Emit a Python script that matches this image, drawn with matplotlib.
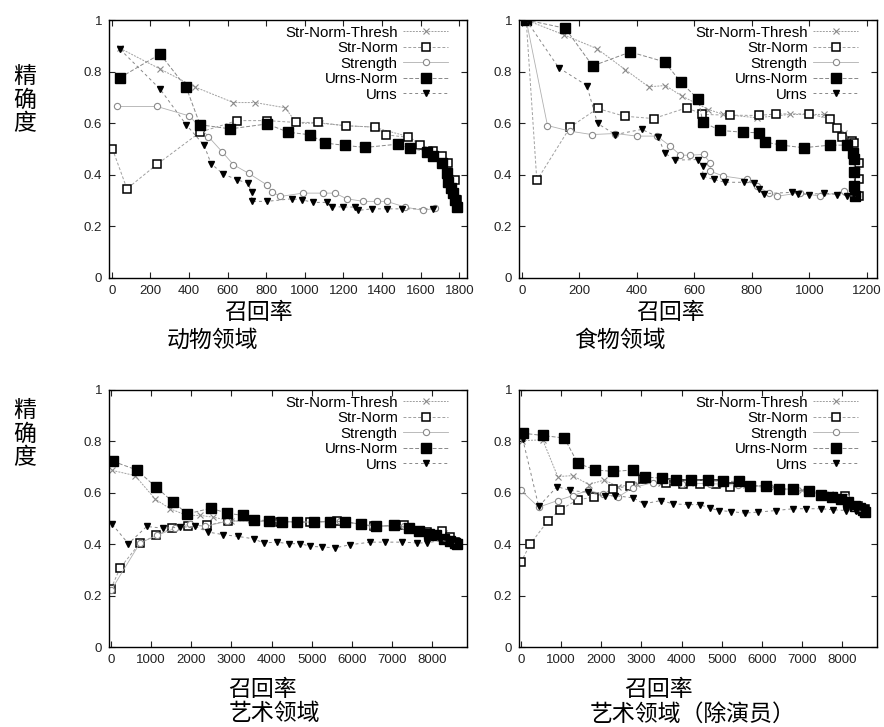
import matplotlib
matplotlib.use("Agg")
import matplotlib.pyplot as plt

plt.rcParams['font.family'] = ['Liberation Sans', 'Noto Sans CJK SC', 'DejaVu Sans']

# series names (legend order)
series_names = ["Str-Norm-Thresh", "Str-Norm", "Strength", "Urns-Norm", "Urns"]

# ---- panel 1: animal domain ----
animal_thresh_x = [43, 250, 431, 630, 742, 897, 958, 1079, 1217, 1355, 1536, 1640, 1717, 1778, 1790]
animal_thresh_y = [0.89, 0.81, 0.74, 0.68, 0.68, 0.66, 0.60, 0.60, 0.59, 0.585, 0.548, 0.50, 0.45, 0.38, 0.29]
animal_strnorm_x = [3, 78, 233, 457, 647, 803, 954, 1067, 1212, 1363, 1420, 1536, 1597, 1666, 1709, 1743, 1778, 1786, 1795]
animal_strnorm_y = [0.50, 0.346, 0.44, 0.565, 0.61, 0.61, 0.603, 0.603, 0.59, 0.585, 0.555, 0.545, 0.514, 0.493, 0.471, 0.445, 0.381, 0.303, 0.271]
animal_strength_x = [26, 233, 402, 500, 570, 630, 708, 803, 829, 872, 989, 1096, 1156, 1217, 1303, 1372, 1424, 1519, 1614, 1674]
animal_strength_y = [0.665, 0.665, 0.628, 0.548, 0.49, 0.439, 0.406, 0.361, 0.335, 0.316, 0.329, 0.329, 0.329, 0.307, 0.297, 0.297, 0.297, 0.275, 0.262, 0.271]
animal_urnsnorm_x = [43, 250, 385, 457, 613, 803, 915, 1027, 1105, 1208, 1312, 1484, 1545, 1631, 1666, 1709, 1735, 1743, 1755, 1769, 1778, 1786]
animal_urnsnorm_y = [0.777, 0.868, 0.739, 0.594, 0.578, 0.597, 0.565, 0.555, 0.523, 0.514, 0.506, 0.519, 0.503, 0.49, 0.471, 0.445, 0.406, 0.374, 0.35, 0.329, 0.303, 0.277]
animal_urns_x = [43, 250, 385, 478, 514, 575, 647, 704, 725, 725, 803, 932, 984, 1044, 1113, 1139, 1200, 1260, 1277, 1346, 1424, 1502, 1666]
animal_urns_y = [0.886, 0.732, 0.594, 0.514, 0.443, 0.404, 0.381, 0.368, 0.332, 0.297, 0.297, 0.307, 0.303, 0.293, 0.293, 0.277, 0.275, 0.275, 0.262, 0.268, 0.268, 0.268, 0.268]

# ---- panel 2: food domain ----
food_thresh_x = [15, 147, 261, 359, 441, 499, 557, 649, 701, 817, 933, 1049, 1119, 1165, 1171]
food_thresh_y = [1.0, 0.942, 0.889, 0.808, 0.741, 0.746, 0.705, 0.653, 0.634, 0.621, 0.634, 0.634, 0.563, 0.433, 0.317]
food_strnorm_x = [15, 52, 168, 263, 357, 458, 574, 628, 725, 823, 885, 997, 1072, 1096, 1115, 1148, 1154, 1171, 1171, 1171]
food_strnorm_y = [1.0, 0.378, 0.585, 0.657, 0.627, 0.618, 0.66, 0.634, 0.631, 0.63, 0.636, 0.636, 0.618, 0.582, 0.546, 0.53, 0.524, 0.446, 0.382, 0.317]
food_strength_x = [15, 89, 168, 243, 325, 400, 470, 516, 551, 586, 632, 655, 655, 701, 783, 817, 858, 887, 968, 1037, 1119, 1165]
food_strength_y = [1.0, 0.591, 0.569, 0.556, 0.56, 0.55, 0.55, 0.511, 0.476, 0.476, 0.479, 0.446, 0.414, 0.395, 0.382, 0.356, 0.33, 0.317, 0.33, 0.317, 0.336, 0.317]
food_urnsnorm_x = [15, 151, 246, 377, 496, 553, 614, 629, 690, 769, 823, 846, 902, 980, 1072, 1130, 1151, 1156, 1156, 1156, 1159]
food_urnsnorm_y = [1.0, 0.968, 0.822, 0.876, 0.838, 0.759, 0.692, 0.604, 0.572, 0.565, 0.563, 0.527, 0.515, 0.505, 0.515, 0.515, 0.485, 0.46, 0.41, 0.356, 0.317]
food_urns_x = [15, 128, 226, 263, 325, 417, 475, 496, 533, 611, 629, 629, 667, 707, 771, 806, 823, 843, 939, 962, 1000, 1049, 1096, 1130, 1165]
food_urns_y = [1.0, 0.815, 0.746, 0.599, 0.556, 0.576, 0.546, 0.485, 0.457, 0.459, 0.433, 0.395, 0.382, 0.371, 0.371, 0.369, 0.345, 0.327, 0.332, 0.327, 0.323, 0.33, 0.323, 0.319, 0.317]

# ---- panel 3: art domain ----
art_thresh_x = [33, 599, 1098, 1472, 1888, 2220, 2553, 3000, 3600, 4300, 5000, 5700, 6500, 7300, 7900, 8300, 8600]
art_thresh_y = [0.687, 0.667, 0.576, 0.538, 0.512, 0.512, 0.505, 0.49, 0.49, 0.488, 0.486, 0.49, 0.47, 0.472, 0.45, 0.445, 0.405]
art_strnorm_x = [0, 225, 723, 1123, 1530, 1929, 2387, 2927, 3551, 4216, 4965, 5630, 6545, 7293, 7875, 8249, 8458, 8582]
art_strnorm_y = [0.227, 0.307, 0.405, 0.434, 0.462, 0.47, 0.473, 0.492, 0.492, 0.488, 0.486, 0.492, 0.47, 0.473, 0.447, 0.451, 0.427, 0.408]
art_strength_x = [0, 723, 1140, 1597, 1971, 2345, 2900, 3500, 4200, 5000, 5700, 6500, 7300, 7900, 8400, 8620]
art_strength_y = [0.22, 0.405, 0.434, 0.462, 0.479, 0.469, 0.49, 0.49, 0.488, 0.486, 0.49, 0.47, 0.472, 0.447, 0.42, 0.405]
art_urnsnorm_x = [58, 640, 1123, 1555, 1904, 2486, 2886, 3277, 3551, 3925, 4258, 4632, 5048, 5464, 5838, 6237, 6611, 7044, 7418, 7667, 7917, 8108, 8291, 8458, 8582, 8624]
art_urnsnorm_y = [0.722, 0.689, 0.622, 0.563, 0.518, 0.54, 0.521, 0.512, 0.495, 0.492, 0.488, 0.486, 0.486, 0.488, 0.488, 0.477, 0.47, 0.473, 0.464, 0.451, 0.44, 0.434, 0.421, 0.412, 0.405, 0.402]
art_urns_x = [33, 432, 890, 1306, 1721, 2096, 2428, 2802, 3176, 3551, 3801, 4133, 4424, 4715, 4965, 5256, 5588, 5963, 6462, 6836, 7252, 7626, 7875, 8208, 8458, 8624]
art_urns_y = [0.477, 0.402, 0.469, 0.462, 0.466, 0.469, 0.447, 0.437, 0.43, 0.421, 0.405, 0.408, 0.402, 0.402, 0.392, 0.389, 0.386, 0.398, 0.408, 0.408, 0.408, 0.405, 0.405, 0.415, 0.408, 0.402]

# ---- panel 4: art domain without actors ----
noact_thresh_x = [17, 541, 915, 1289, 1688, 2079, 2412, 2900, 3500, 4200, 4900, 5600, 6300, 7000, 7700, 8200, 8560]
noact_thresh_y = [0.803, 0.806, 0.663, 0.667, 0.632, 0.65, 0.624, 0.635, 0.64, 0.638, 0.636, 0.63, 0.622, 0.61, 0.595, 0.57, 0.53]
noact_strnorm_x = [0, 225, 665, 973, 1414, 1813, 2304, 2719, 3052, 3618, 4033, 4449, 4865, 5198, 5696, 6778, 8067, 8399, 8566]
noact_strnorm_y = [0.33, 0.399, 0.49, 0.534, 0.573, 0.583, 0.615, 0.628, 0.654, 0.637, 0.635, 0.635, 0.635, 0.624, 0.628, 0.609, 0.589, 0.55, 0.537]
noact_strength_x = [0, 441, 915, 1289, 1663, 2037, 2412, 2786, 3300, 4000, 4700, 5400, 6100, 6800, 7500, 8100, 8500]
noact_strength_y = [0.609, 0.544, 0.57, 0.589, 0.609, 0.596, 0.583, 0.62, 0.64, 0.636, 0.636, 0.63, 0.625, 0.61, 0.595, 0.585, 0.54]
noact_urnsnorm_x = [42, 541, 1081, 1414, 1854, 2304, 2802, 3077, 3518, 3867, 4224, 4657, 5031, 5430, 5713, 6112, 6428, 6778, 7177, 7484, 7759, 7983, 8150, 8316, 8441, 8524, 8566]
noact_urnsnorm_y = [0.832, 0.823, 0.813, 0.715, 0.689, 0.683, 0.689, 0.661, 0.657, 0.648, 0.65, 0.648, 0.644, 0.645, 0.628, 0.628, 0.615, 0.613, 0.606, 0.593, 0.583, 0.574, 0.563, 0.55, 0.541, 0.534, 0.527]
noact_urns_x = [42, 441, 898, 1231, 1663, 2104, 2354, 2802, 3060, 3493, 3784, 4158, 4449, 4699, 4932, 5240, 5572, 5904, 6362, 6778, 7110, 7484, 7775, 8108, 8358, 8566]
noact_urns_y = [0.81, 0.547, 0.624, 0.609, 0.602, 0.587, 0.589, 0.58, 0.557, 0.57, 0.557, 0.554, 0.554, 0.541, 0.531, 0.527, 0.521, 0.525, 0.531, 0.538, 0.538, 0.538, 0.534, 0.531, 0.531, 0.525]

panel_titles = ["动物领域", "食物领域", "艺术领域", "艺术领域（除演员）"]
x_label = "召回率"
y_label = "精确度"
xticks_small = [0, 200, 400, 600, 800, 1000, 1200, 1400, 1600, 1800]
xticks_food = [0, 200, 400, 600, 800, 1000, 1200]
xticks_art = [0, 1000, 2000, 3000, 4000, 5000, 6000, 7000, 8000]
yticks = [0, 0.2, 0.4, 0.6, 0.8, 1]

styles = {
    "Str-Norm-Thresh": dict(color="#a0a0a0", ls=(0, (2, 1.2)), lw=0.7, marker="x", ms=4,
                            mec="#8a8a8a", mew=0.8),
    "Str-Norm": dict(color="#a0a0a0", ls=(0, (3, 2)), lw=0.7, marker="s", ms=5.5,
                     mfc="white", mec="black", mew=1.1),
    "Strength": dict(color="#b0b0b0", ls="-", lw=0.6, marker="o", ms=4.5,
                     mfc="white", mec="#8a8a8a", mew=0.8),
    "Urns-Norm": dict(color="#888888", ls=(0, (4, 2)), lw=0.7, marker="s", ms=6.5,
                      mfc="black", mec="black"),
    "Urns": dict(color="#888888", ls=(0, (3, 3)), lw=0.7, marker="v", ms=4,
                 mfc="black", mec="black"),
}

W, H = 884, 727
fig = plt.figure(figsize=(W / 100, H / 100), dpi=100)

def box(l, t, r, b):
    return [l / W, 1 - b / H, (r - l) / W, (b - t) / H]

panels = [
    (box(109, 20, 467, 278), (-15, 1840), xticks_small,
     [(animal_thresh_x, animal_thresh_y), (animal_strnorm_x, animal_strnorm_y),
      (animal_strength_x, animal_strength_y), (animal_urnsnorm_x, animal_urnsnorm_y),
      (animal_urns_x, animal_urns_y)]),
    (box(519, 20, 877, 278), (-10, 1235), xticks_food,
     [(food_thresh_x, food_thresh_y), (food_strnorm_x, food_strnorm_y),
      (food_strength_x, food_strength_y), (food_urnsnorm_x, food_urnsnorm_y),
      (food_urns_x, food_urns_y)]),
    (box(109, 390, 467, 647), (-50, 8870), xticks_art,
     [(art_thresh_x, art_thresh_y), (art_strnorm_x, art_strnorm_y),
      (art_strength_x, art_strength_y), (art_urnsnorm_x, art_urnsnorm_y),
      (art_urns_x, art_urns_y)]),
    (box(519, 390, 877, 647), (-50, 8870), xticks_art,
     [(noact_thresh_x, noact_thresh_y), (noact_strnorm_x, noact_strnorm_y),
      (noact_strength_x, noact_strength_y), (noact_urnsnorm_x, noact_urnsnorm_y),
      (noact_urns_x, noact_urns_y)]),
]

for rect, xlim, xt, data in panels:
    ax = fig.add_axes(rect)
    for name, (xs, ys) in zip(series_names, data):
        ax.plot(xs, ys, label=name, **styles[name])
    ax.set_xlim(*xlim)
    ax.set_ylim(0, 1)
    ax.set_xticks(xt)
    ax.set_yticks(yticks)
    ax.set_yticklabels(["%g" % v for v in yticks])
    ax.tick_params(direction="in", length=4, width=0.8, top=True, right=True,
                   labelsize=9.5, pad=5, colors="#222222")
    for sp in ax.spines.values():
        sp.set_linewidth(1.0)
    ax.legend(loc="upper right", bbox_to_anchor=(0.947, 0.978), frameon=False,
              markerfirst=False, fontsize=10.8, handlelength=3.0, handletextpad=0.35,
              labelspacing=0.1, borderpad=0, borderaxespad=0)

cjk = ["Noto Sans CJK SC", "DejaVu Sans"]
fs = 16.5
# x labels and panel titles
for cx, cy, s in [(258, 312, x_label), (670, 312, x_label), (262, 689, x_label), (658, 689, x_label),
                  (213, 340, panel_titles[0]), (620, 340, panel_titles[1]),
                  (274, 714, panel_titles[2]), (693, 714, panel_titles[3])]:
    fig.text(cx / W, 1 - cy / H, s, family=cjk, fontsize=fs, ha="center", va="center")

# y labels, stacked characters
for cy in (100, 434):
    fig.text(25 / W, 1 - cy / H, "\n".join(y_label), family=cjk, fontsize=fs,
             ha="center", va="center", linespacing=1.05)

fig.savefig("out.png", dpi=100)
